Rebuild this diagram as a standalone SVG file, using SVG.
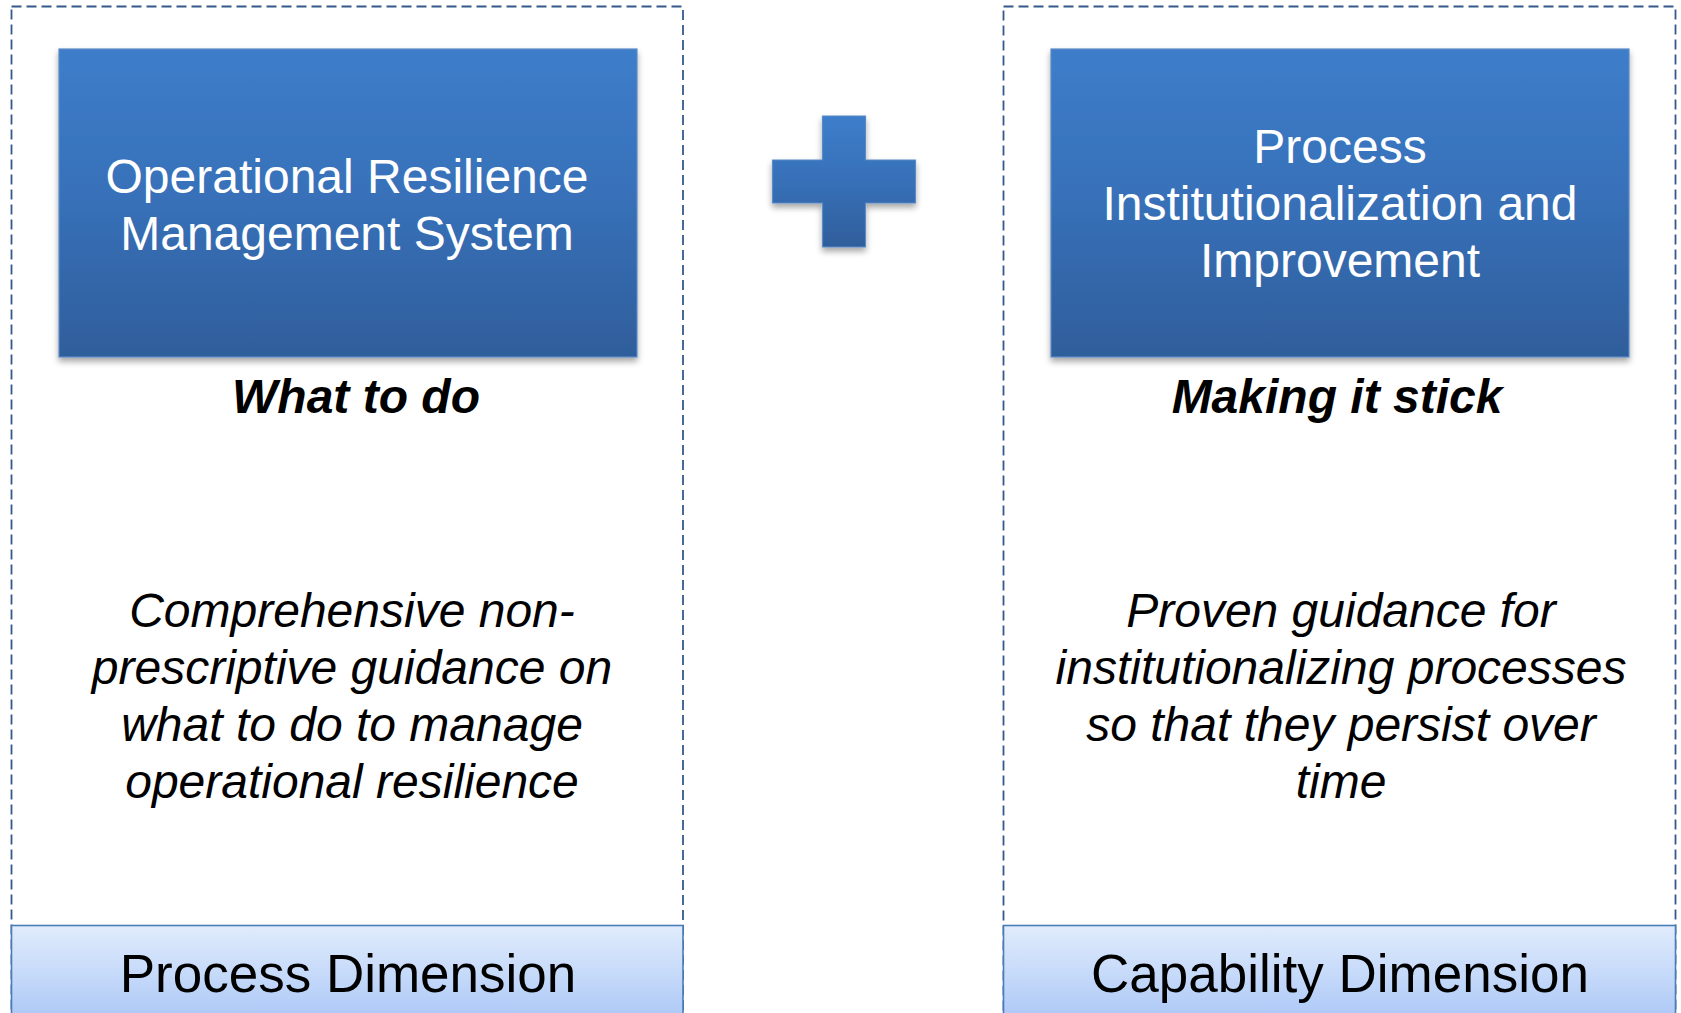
<svg xmlns="http://www.w3.org/2000/svg" width="1681" height="1013" viewBox="0 0 1681 1013">
  <style>
    .frame { fill: #ffffff; stroke: #34598a; stroke-width: 1.8; stroke-dasharray: 10 5; }
    .box { fill: url(#blueGrad); stroke: #5a8ac6; stroke-width: 1.2; filter: url(#shadow); }
    .band { fill: url(#bandGrad); stroke: #4a7cb8; stroke-width: 1.6; }
    .title { font-family: "Liberation Sans", Arial, sans-serif; font-size: 48px; fill: #ffffff; text-anchor: middle; }
    .label { font-family: "Liberation Sans", Arial, sans-serif; font-size: 48px; font-weight: bold; font-style: italic; fill: #000000; text-anchor: middle; }
    .body { font-family: "Liberation Sans", Arial, sans-serif; font-size: 48px; font-style: italic; fill: #000000; text-anchor: middle; }
    .dim { font-family: "Liberation Sans", Arial, sans-serif; font-size: 53px; fill: #000000; text-anchor: middle; }
  </style>
  <defs>
    <linearGradient id="blueGrad" x1="0" y1="0" x2="0" y2="1">
      <stop offset="0" stop-color="#3d7dca"/>
      <stop offset="0.5" stop-color="#3770b8"/>
      <stop offset="1" stop-color="#2f5e9b"/>
    </linearGradient>
    <linearGradient id="bandGrad" x1="0" y1="0" x2="0" y2="1">
      <stop offset="0" stop-color="#e1ecfc"/>
      <stop offset="1" stop-color="#a3c2f6"/>
    </linearGradient>
    <filter id="shadow" x="-10%" y="-10%" width="120%" height="130%">
      <feDropShadow dx="0" dy="4" stdDeviation="3" flood-color="#000000" flood-opacity="0.35"/>
    </filter>
  </defs>
  <rect width="1681" height="1013" fill="#ffffff"/>

  <g id="process-dimension">
    <rect class="frame" x="11.5" y="6.5" width="671.5" height="1030"/>
    <rect class="band" x="11.5" y="925.5" width="671.5" height="110"/>
    <text class="dim" x="348" y="992">Process Dimension</text>
  </g>

  <g id="capability-dimension">
    <rect class="frame" x="1003.5" y="6.5" width="672" height="1030"/>
    <rect class="band" x="1003.5" y="925.5" width="672" height="110"/>
    <text class="dim" x="1340" y="992">Capability Dimension</text>
  </g>

  <g id="ormms">
    <rect class="box" x="59" y="49" width="578" height="308"/>
    <text class="title" x="347" y="193">Operational Resilience</text>
    <text class="title" x="347" y="250">Management System</text>
  </g>

  <g id="what-to-do">
    <text class="label" x="356" y="413">What to do</text>
    <text class="body" x="352" y="627">Comprehensive non-</text>
    <text class="body" x="352" y="684">prescriptive guidance on</text>
    <text class="body" x="352" y="741">what to do to manage</text>
    <text class="body" x="352" y="798">operational resilience</text>
  </g>

  <g id="plus">
    <path d="M822.5 116 H865.5 V160 H915.5 V203 H865.5 V247 H822.5 V203 H772.5 V160 H822.5 Z" fill="url(#blueGrad)" stroke="#5a8ac6" stroke-width="1.2" filter="url(#shadow)"/>
  </g>

  <g id="piai">
    <rect class="box" x="1051" y="49" width="578" height="308"/>
    <text class="title" x="1340" y="163">Process</text>
    <text class="title" x="1340" y="220">Institutionalization and</text>
    <text class="title" x="1340" y="277">Improvement</text>
  </g>

  <g id="making-it-stick">
    <text class="label" x="1337" y="413">Making it stick</text>
    <text class="body" x="1341" y="627">Proven guidance for</text>
    <text class="body" x="1341" y="684">institutionalizing processes</text>
    <text class="body" x="1341" y="741">so that they persist over</text>
    <text class="body" x="1341" y="798">time</text>
  </g>

  <g id="connectors"></g>
</svg>
